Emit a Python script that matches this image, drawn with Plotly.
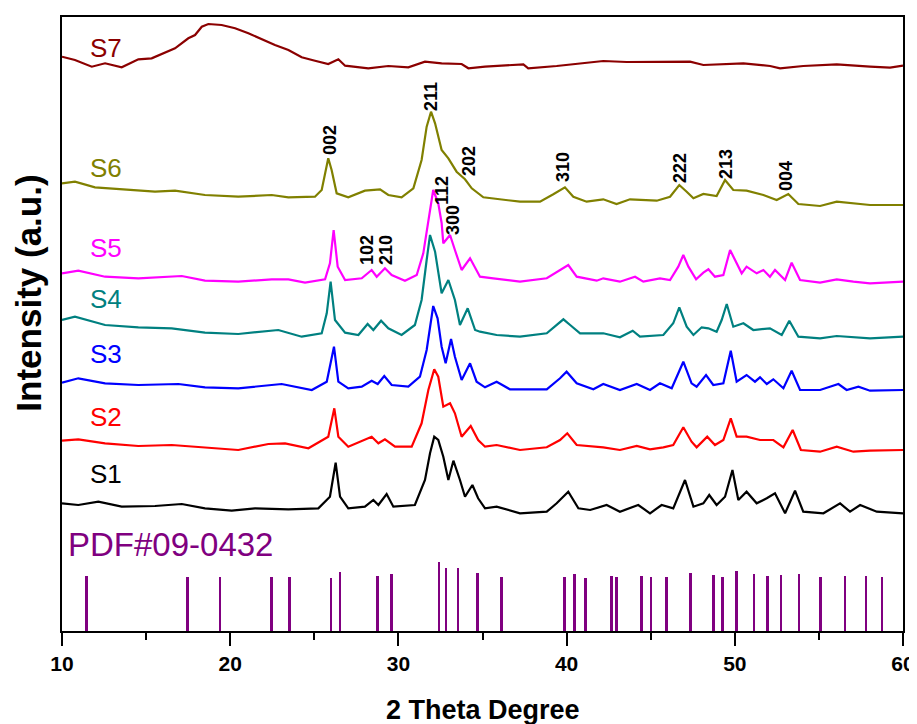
import plotly.graph_objects as go

# ---------------- data (2 theta in degrees, stacked intensity in a.u.) ----------------
s7_x = [10.0, 10.77, 11.77, 12.56, 13.55, 13.85, 14.54, 15.33, 16.12, 16.72, 17.51, 17.91, 18.31, 18.70,
        19.49, 20.29, 21.08, 21.87, 22.66, 23.46, 24.25, 25.04, 25.83, 26.43, 26.83, 28.21, 29.40, 30.59,
        31.58, 32.57, 33.76, 34.16, 35.15, 37.43, 37.72, 39.41, 40.80, 42.18, 43.57, 45.36, 47.34, 48.13,
        50.51, 52.10, 52.69, 54.07, 56.06, 58.04, 59.23, 60.0]
s7_y = [574.3, 571, 564.3, 567.7, 563.7, 566, 571.7, 572.7, 578.3, 582.7, 592.7, 596, 604.3, 607,
        606, 602.7, 597.7, 591.7, 586, 581, 573.7, 570.3, 567, 571.7, 565.3, 562.7, 565, 563.7,
        569.3, 567.7, 567, 562.7, 564.3, 566.7, 562.7, 565, 567.7, 570, 569, 569, 569.3, 566,
        567.7, 565, 562.7, 565, 566.7, 564.3, 563.3, 565.3]

s6_x = [10.0, 10.77, 11.96, 13.55, 15.53, 16.72, 18.50, 20.48, 22.47, 23.46, 25.04, 25.44, 25.68, 25.83,
        26.03, 26.33, 27.02, 28.01, 28.91, 29.40, 30.19, 30.89, 31.38, 31.68, 31.94, 32.18, 32.57, 32.97,
        33.46, 33.96, 34.36, 35.05, 37.23, 38.42, 39.21, 39.90, 40.40, 41.19, 42.18, 42.97, 43.77, 45.36,
        46.15, 46.70, 47.14, 47.54, 48.13, 48.92, 49.42, 49.91, 50.70, 51.70, 52.49, 53.18, 53.78, 55.07,
        56.06, 58.04, 60.0]
s6_y = [447.7, 449.3, 443.7, 441.7, 439.3, 440.3, 436, 434.3, 436, 433.7, 434.3, 441, 461, 472.7,
        461, 437.7, 433.7, 440.3, 441.7, 436, 433.7, 442.7, 471, 504.3, 519.3, 507.7, 481, 472.7,
        459.3, 451.7, 442.7, 433.7, 429.3, 429.3, 436.7, 443.7, 434.3, 429.3, 431.7, 427, 431.7, 430.3,
        434.3, 446, 439.3, 432.7, 437, 435, 451, 441, 440.3, 436, 431, 437, 427, 425,
        429.3, 426, 426]

s5_x = [10.0, 10.97, 12.56, 14.54, 17.12, 18.50, 20.48, 22.47, 23.46, 24.45, 25.64, 25.93, 26.15, 26.39,
        26.83, 27.82, 28.41, 28.71, 29.20, 29.60, 30.39, 31.09, 31.48, 31.78, 32.07, 32.37, 32.57, 32.67,
        33.07, 33.36, 33.76, 34.26, 34.65, 34.85, 35.64, 37.23, 38.82, 39.61, 40.10, 40.60, 41.79, 42.18,
        43.17, 44.07, 44.56, 45.55, 46.15, 46.64, 46.94, 47.24, 47.70, 48.13, 48.43, 48.82, 49.32, 49.72,
        50.11, 50.41, 50.70, 51.30, 51.70, 52.09, 52.39, 52.99, 53.38, 53.88, 55.07, 56.06, 57.05, 58.04, 60.0]
s5_y = [357.7, 360.3, 354.3, 352.7, 355, 350.3, 349.3, 351.7, 351.7, 348.3, 351.7, 367.7, 401, 364.3,
        351, 352.7, 361, 354.3, 362.7, 356, 350.3, 356, 377.7, 411, 441, 427.7, 408, 387.7,
        396, 381, 361, 372.7, 361, 354.3, 352.7, 349.3, 352.7, 361, 366, 354.3, 350.3, 352.7,
        349.3, 354.3, 349.3, 352.7, 351, 364.3, 376, 364.3, 351.7, 358.3, 361.7, 354.3, 356, 381,
        367.7, 357.7, 364.3, 357.7, 361, 354.3, 361, 351, 368.3, 351, 348.3, 351.7, 349.3, 347.7, 349.3]

s4_x = [10.0, 10.77, 12.56, 14.54, 16.52, 18.50, 20.48, 22.86, 24.25, 25.44, 25.74, 25.97, 26.23, 26.83,
        27.62, 28.17, 28.51, 28.97, 29.40, 30.19, 30.98, 31.38, 31.68, 31.88, 32.18, 32.57, 32.97, 33.36,
        33.66, 34.12, 34.56, 34.85, 35.84, 37.23, 38.82, 39.81, 40.21, 40.80, 42.18, 43.17, 43.93, 44.36,
        45.75, 46.34, 46.70, 47.14, 47.54, 48.03, 48.43, 48.92, 49.22, 49.52, 49.91, 50.51, 51.10, 52.09,
        52.79, 53.24, 53.78, 55.07, 56.06, 58.04, 60.0]
s4_y = [311, 314.3, 306, 303.7, 302.7, 298.3, 297, 301, 294.3, 297.7, 317.7, 349.3, 311, 298.3,
        296, 307, 301, 310.3, 302.7, 296, 306, 331, 371, 396, 379.3, 337.7, 351, 331,
        306, 322.7, 301, 299.3, 296, 294.3, 297.7, 311.7, 306, 297.7, 297.7, 293.7, 300.3, 294.3,
        296, 307.7, 323.7, 304.3, 296, 303.7, 302.7, 299.3, 311, 327, 304.3, 307.7, 301, 302.7,
        296, 310.3, 294.3, 292.7, 295, 292.7, 294.3]

s3_x = [10.0, 10.97, 12.56, 14.54, 16.92, 18.50, 20.48, 23.06, 24.85, 25.74, 26.17, 26.43, 27.02, 27.82,
        28.41, 28.77, 29.16, 29.60, 30.59, 31.28, 31.68, 32.07, 32.33, 32.57, 32.81, 33.13, 33.36, 33.76,
        34.26, 34.65, 35.15, 35.84, 36.63, 38.82, 39.61, 40.00, 40.60, 41.59, 42.18, 43.17, 44.17, 44.96,
        45.55, 46.25, 46.94, 47.43, 47.73, 48.29, 48.72, 49.32, 49.76, 50.11, 50.70, 51.20, 51.50, 51.90,
        52.29, 52.89, 53.38, 53.88, 55.07, 56.16, 56.65, 57.35, 58.04, 60.0]
s3_y = [248.3, 252.7, 247.7, 246, 247, 243.7, 242.7, 247, 241, 249.3, 284.3, 249.3, 242.7, 244.3,
        250.3, 247, 255, 246, 244.3, 254.3, 281, 325, 312.7, 284.3, 267.7, 292, 274.3, 251,
        267.7, 249.3, 243.7, 249.3, 241.7, 241.7, 252.7, 259.3, 247.7, 241.7, 247, 241, 247, 241,
        247.7, 242.7, 269.3, 247.7, 244.3, 256, 246, 247.7, 280.3, 249.3, 256, 249.3, 253.7, 247,
        251.7, 242.7, 260.3, 241, 241, 247, 241, 244.3, 240.3, 241]

s2_x = [10.0, 10.97, 12.56, 14.54, 16.52, 18.50, 20.48, 22.27, 23.26, 24.65, 25.83, 26.19, 26.43, 27.02,
        28.41, 28.81, 29.20, 29.80, 30.79, 31.38, 31.78, 32.13, 32.37, 32.67, 33.07, 33.36, 33.76, 34.30,
        34.74, 35.15, 35.84, 37.23, 38.82, 39.61, 40.04, 40.60, 42.18, 43.17, 44.17, 44.96, 45.75, 46.34,
        46.94, 47.43, 47.73, 48.36, 48.82, 49.32, 49.76, 50.11, 50.70, 51.50, 52.29, 52.89, 53.44, 53.93,
        55.07, 56.06, 57.05, 58.04, 60.0]
s2_y = [190.3, 191.7, 187.7, 185, 186, 183.7, 181, 187, 187.7, 182.7, 194.3, 222.7, 194.3, 184.3,
        194.3, 187.7, 191.7, 184.3, 184.3, 207.7, 241, 261.7, 254.3, 224.3, 227.7, 217.7, 194.3, 205,
        191, 184.3, 186, 181, 183.7, 191, 197.7, 186, 183.7, 181, 185, 181.7, 183.7, 186,
        203.7, 189.3, 183.7, 194.3, 186, 191, 212.7, 194.3, 194.3, 191, 191, 183.7, 201, 181,
        179.3, 184.3, 179.3, 180.3, 181]

s1_x = [10.0, 10.97, 12.16, 13.55, 15.53, 17.12, 18.50, 20.09, 21.48, 23.46, 25.24, 25.93, 26.27, 26.53,
        27.02, 28.01, 28.51, 28.81, 29.30, 29.70, 30.98, 31.58, 31.88, 32.13, 32.37, 32.67, 32.97, 33.27,
        33.66, 33.96, 34.40, 34.74, 35.15, 35.84, 37.23, 38.82, 39.41, 40.10, 40.70, 41.40, 42.38, 43.17,
        44.26, 44.96, 45.65, 46.34, 47.04, 47.54, 48.13, 48.48, 48.92, 49.42, 49.86, 50.21, 50.70, 51.30,
        51.90, 52.39, 52.99, 53.58, 54.07, 55.27, 56.26, 56.85, 57.45, 58.44, 60.0]
s1_y = [127.7, 126, 129.3, 124.3, 125, 127, 122.7, 120.3, 122.7, 121.7, 122.7, 134.3, 168.3, 134.3,
        122.7, 124.3, 131, 126, 137, 124.3, 126, 151, 177.7, 194.3, 191, 174.3, 151, 170.3,
        151, 134.3, 146, 132.7, 122.7, 124.3, 117.7, 119.3, 127.7, 139.3, 122.7, 121, 126, 119.3,
        126, 117.7, 126, 122.7, 151, 124.3, 127.7, 136, 126, 134.3, 161, 131, 139.3, 127.7,
        132.7, 137.7, 117.7, 140.3, 119.3, 117.7, 127.7, 119.3, 126, 119.3, 117.7]

pdf_pos = [11.47, 17.47, 19.39, 22.47, 23.54, 25.99, 26.53, 28.75, 29.60, 32.41, 32.83, 33.54, 34.69,
           36.14, 39.87, 40.46, 41.11, 42.66, 42.98, 44.46, 45.02, 45.95, 47.38, 48.74, 49.26, 50.11,
           51.14, 51.95, 52.75, 53.82, 55.11, 56.55, 57.80, 58.75]
pdf_int = [55, 54, 54, 54, 54, 53, 59, 55, 57, 69, 63, 63, 58,
           54, 54, 57, 53, 55, 54, 55, 54, 54, 58, 56, 54, 60,
           57, 55, 56, 57, 54, 55, 55, 54]

sample_names = ["S1", "S2", "S3", "S4", "S5", "S6", "S7"]
hkl_labels = ["002", "211", "202", "112", "300", "102", "210", "310", "222", "213", "004"]
hkl_pos = [25.93, 31.94, 34.20, 32.59, 33.25, 28.13, 29.26, 39.79, 46.74, 49.48, 53.04]
x_ticks = [10, 20, 30, 40, 50, 60]

# ---------------- figure ----------------
series = [(s1_x, s1_y), (s2_x, s2_y), (s3_x, s3_y), (s4_x, s4_y), (s5_x, s5_y), (s6_x, s6_y), (s7_x, s7_y)]
colors = ["#000000", "#FF0000", "#0000FF", "#008080", "#FF00FF", "#808000", "#8B0000"]
label_y = [157, 214, 277, 332, 383, 463, 583]

fig = go.Figure()
for (xs, ys), c, n in zip(series, colors, sample_names):
    fig.add_trace(go.Scatter(x=xs, y=ys, mode="lines", name=n,
                             line=dict(color=c, width=2.2)))

fig.add_trace(go.Bar(x=pdf_pos, y=pdf_int, width=0.17, marker=dict(color="#800080", line=dict(width=0)),
                     name="PDF#09-0432"))

for n, c, yy in zip(sample_names, colors, label_y):
    fig.add_annotation(x=11.55, y=yy, text=n, showarrow=False, xanchor="left", yanchor="middle",
                       font=dict(family="Arial", size=26, color=c))
fig.add_annotation(x=10.24, y=87, text="PDF#09-0432", showarrow=False, xanchor="left", yanchor="middle",
                   font=dict(family="Arial", size=33, color="#800080"))

hkl_y = [491, 534, 470, 441, 411, 381, 381, 464, 463, 467, 455]
for t, xx, yy in zip(hkl_labels, hkl_pos, hkl_y):
    fig.add_annotation(x=xx, y=yy, text="<b>" + t + "</b>", showarrow=False, textangle=-90,
                       font=dict(family="Arial", size=18, color="#000000"))

# axis titles as paper-anchored annotations
fig.add_annotation(xref="paper", yref="paper", x=-0.040, y=0.55, text="<b>Intensity (a.u.)</b>",
                   showarrow=False, textangle=-90, xanchor="center", yanchor="middle",
                   font=dict(family="Arial", size=35, color="black"))
fig.add_annotation(xref="paper", yref="paper", x=0.5, y=-0.128, text="<b>2 Theta Degree</b>",
                   showarrow=False, xanchor="center", yanchor="middle",
                   font=dict(family="Arial", size=27, color="black"))

axis_common = dict(showline=True, linecolor="black", linewidth=2, mirror=True,
                   showgrid=False, zeroline=False, automargin=False)

# the page body keeps an 8px default margin, so the figure is sized to fit the window
fig.update_layout(
    width=909, height=716,
    margin=dict(l=54, r=14, t=9, b=93, autoexpand=False),
    paper_bgcolor="white", plot_bgcolor="white",
    showlegend=False,
    bargap=0,
    xaxis=dict(range=[10, 60], tickvals=x_ticks, ticks="outside", ticklen=13, tickwidth=2,
               tickcolor="black",
               minor=dict(dtick=5, tick0=0, ticks="outside", ticklen=7, tickwidth=2, tickcolor="black"),
               tickfont=dict(family="Arial", size=21, color="black", weight="bold"),
               **axis_common),
    yaxis=dict(range=[0, 614], showticklabels=False, ticks="", **axis_common),
)

fig.write_html("out.html")
